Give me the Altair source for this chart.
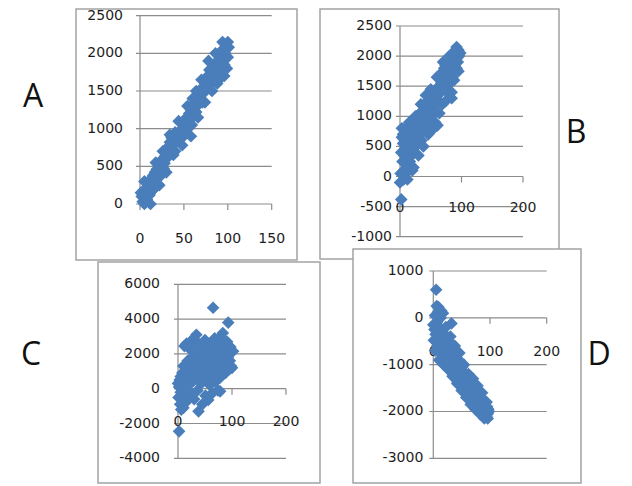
import altair as alt
import pandas as pd

# ---------------- data ----------------
A_x = [1, 2, 3, 4, 5, 6, 7, 8, 9, 10,
       11, 12, 13, 14, 15, 16, 17, 18, 19, 20,
       21, 22, 23, 24, 25, 26, 27, 28, 29, 30,
       31, 32, 33, 34, 35, 36, 37, 38, 39, 40,
       41, 42, 43, 44, 45, 46, 47, 48, 49, 50,
       52, 53, 54, 55, 56, 57, 58, 59, 60, 61,
       62, 63, 64, 65, 66, 67, 68, 69, 70, 71,
       72, 73, 74, 75, 76, 77, 78, 79, 80, 81,
       82, 83, 84, 85, 86, 87, 88, 89, 90, 91,
       92, 93, 94, 95, 96, 97, 98, 99, 100, 101,
       5, 12, 18, 22, 26, 30, 34, 38, 44, 48,
       54, 58, 64, 66, 70, 74, 78, 82, 86, 90,
       94, 96, 100, 16, 40, 60, 88]
A_y = [150, 100, 30, 180, 0, 90, 140, 60, 200, 230,
       120, 330, 250, 180, 380, 300, 420, 340, 460, 400,
       520, 450, 560, 380, 490, 600, 470, 540, 640, 600,
       700, 760, 650, 820, 720, 880, 780, 900, 840, 700,
       820, 920, 860, 950, 900, 980, 940, 880, 1000, 950,
       1050, 1150, 1000, 1100, 1200, 1120, 1250, 1050, 1300, 1180,
       1280, 1350, 1220, 1300, 1420, 1500, 1380, 1520, 1450, 1350,
       1550, 1480, 1600, 1650, 1520, 1700, 1620, 1780, 1720, 1600,
       1800, 1680, 1750, 1850, 1620, 1780, 1900, 1700, 1820, 2000,
       1880, 1780, 2050, 1950, 1850, 2000, 2100, 1800, 1950, 2080,
       300, 0, 550, 250, 700, 420, 920, 650, 1100, 780,
       1300, 900, 1500, 1150, 1650, 1350, 1900, 1500, 2000, 1650,
       2150, 1700, 2150, 200, 950, 1400, 1600]

B_x = [0, 1, 2, 2, 3, 4, 5, 5, 6, 7,
       8, 9, 10, 10, 11, 12, 13, 14, 15, 16,
       17, 18, 19, 20, 21, 22, 23, 24, 25, 26,
       27, 28, 29, 30, 31, 32, 33, 34, 35, 36,
       37, 38, 39, 40, 41, 42, 43, 44, 45, 46,
       47, 48, 49, 50, 51, 52, 53, 54, 55, 56,
       57, 58, 59, 60, 61, 62, 63, 64, 65, 66,
       67, 68, 69, 70, 71, 72, 73, 74, 75, 76,
       77, 78, 79, 80, 81, 82, 83, 84, 85, 86,
       87, 88, 89, 90, 91, 92, 93, 94, 95, 96,
       3, 8, 12, 15, 20, 25, 30, 34, 38, 42,
       46, 50, 55, 60, 64, 70, 74, 80, 84, 88,
       92, 95, 98, 6, 18]
B_y = [-100, 50, -380, 400, 800, 250, 700, 550, 100, 350,
       600, 200, 450, 650, 300, 550, 80, 700, 400, 250,
       500, 620, 350, 750, 450, 150, 600, 850, 500, 700,
       1000, 800, 550, 900, 680, 1050, 780, 950, 600, 850,
       1000, 750, 1100, 900, 1150, 950, 1000, 1250, 850, 1050,
       1200, 950, 1300, 1100, 1000, 1350, 1150, 1250, 1400, 1050,
       900, 1300, 1200, 1450, 850, 1350, 1500, 1250, 1400, 1600,
       1550, 1700, 1200, 1750, 1650, 1800, 1500, 1850, 1700, 1600,
       1400, 1750, 1650, 1850, 1550, 1700, 1800, 1400, 1650, 1900,
       1750, 2050, 1850, 2100, 1950, 1800, 2050, 1900, 2100, 2000,
       650, 800, -50, 900, 100, 1000, 350, 1200, 500, 1350,
       700, 1450, 800, 1650, 1050, 1900, 1250, 2000, 1300, 1600,
       2150, 1750, 2050, -50, 900]

C_x = [0, 1, 2, 2, 3, 4, 5, 5, 6, 7,
       8, 8, 9, 10, 10, 11, 12, 13, 14, 15,
       16, 17, 18, 19, 20, 21, 22, 23, 24, 25,
       26, 27, 28, 29, 30, 31, 32, 33, 34, 35,
       36, 37, 38, 39, 40, 41, 42, 43, 44, 45,
       46, 47, 48, 49, 50, 51, 52, 53, 54, 55,
       56, 57, 58, 59, 60, 61, 62, 63, 64, 65,
       66, 67, 68, 69, 70, 71, 72, 73, 74, 75,
       76, 77, 78, 79, 80, 81, 82, 83, 84, 85,
       86, 87, 88, 89, 90, 91, 92, 93, 94, 95,
       96, 97, 98, 100, 102]
C_y = [300, -500, -2450, 100, 500, -900, -200, 700, -1200, 200,
       -600, 900, 400, -1100, 1300, -300, 2450, 600, -800, 1100,
       2600, 200, 1600, -400, 900, 2300, 1400, -200, 700, 2700,
       1800, 400, 1000, 2900, -600, 1500, 2200, 600, 3100, 1200,
       -100, 2600, -1300, 1900, 800, 1400, 2500, 300, 1700, -900,
       1100, 2200, 500, 1500, 2800, -400, 1000, 1900, 2400, 600,
       -650, 1300, 2100, 200, 1600, 2600, -300, 1200, 2000, 4650,
       900, 1700, 2900, 400, 1400, 2300, 1000, 2700, -100, 1800,
       2500, 600, -150, 3000, 1500, 2100, 800, 3200, 1200, 2600,
       1700, 2300, 900, 2000, 1400, 2700, 1800, 3800, 1100, 2200,
       1600, 2400, 1300, 1200, 2150]

D_x = [0, 1, 2, 3, 4, 5, 6, 7, 8, 9,
       10, 11, 12, 13, 14, 15, 16, 17, 18, 19,
       20, 21, 22, 23, 24, 25, 26, 27, 28, 29,
       30, 31, 32, 33, 34, 35, 36, 37, 38, 39,
       40, 41, 42, 43, 44, 45, 46, 47, 48, 49,
       50, 51, 52, 53, 54, 55, 56, 57, 58, 59,
       60, 61, 62, 63, 64, 65, 66, 67, 68, 69,
       70, 71, 72, 73, 74, 75, 76, 77, 78, 79,
       80, 81, 82, 83, 84, 85, 86, 87, 88, 89,
       90, 91, 92, 93, 94, 95, 96, 97,
       3, 6, 10, 14, 18, 22, 26, 30, 34, 38,
       42, 46, 50, 54, 58, 62, 66, 70, 74, 78,
       82, 86, 90, 94, 98, 96]
D_y = [-150, -480, -250, 50, -350, 600, -100, -600, 120, 230,
       -400, -200, -700, 0, -500, -300, -800, 100, -450, -650,
       -350, -550, -800, -450, -700, -900, -600, -750, -500, -850,
       -700, -950, -120, -800, -1000, -850, -700, -1050, -900, -750,
       -1000, -850, -1100, -950, -1150, -900, -1050, -1200, -1000, -1150,
       -1250, -1050, -1300, -1150, -1400, -1200, -1500, -1250, -1350, -1550,
       -1400, -1300, -1600, -1450, -1350, -1650, -1500, -1400, -1700, -1550,
       -1450, -1750, -1600, -1500, -1800, -1650, -1550, -1850, -1700, -1600,
       -1900, -1750, -1650, -1950, -1800, -1700, -2000, -1850, -1750, -2050,
       -1900, -2120, -1800, -2000, -2100, -1900, -2050, -1950,
       -700, 250, -900, 150, -1000, -200, -1100, -400, -1250, -600,
       -1400, -750, -1550, -1000, -1700, -1200, -1850, -1300, -1950, -1450,
       -2050, -1600, -2150, -1800, -2000, -2150]

A_xticks = [0, 50, 100, 150]
A_yticks = [0, 500, 1000, 1500, 2000, 2500]
B_xticks = [0, 100, 200]
B_yticks = [-1000, -500, 0, 500, 1000, 1500, 2000, 2500]
C_xticks = [0, 100, 200]
C_yticks = [-4000, -2000, 0, 2000, 4000, 6000]
D_xticks = [0, 100, 200]
D_yticks = [-3000, -2000, -1000, 0, 1000]

panel_letters = ["A", "B", "C", "D"]

# ---------------- styling ----------------
BLUE = "#4a7ebb"
GRID = "#8c8c8c"
BOX = "#a3a3a3"
TXT = "#1e1e1e"
TICK_FONT = "DejaVu Sans"


def panel(xs, ys, xticks, yticks, xrange_px, yrange_px, ylab_dx, xlab_dy):
    xdom = [min(xticks), max(xticks)]
    ydom = [min(yticks), max(yticks)]
    xsc = alt.Scale(domain=xdom, range=xrange_px, nice=False, zero=False)
    ysc = alt.Scale(domain=ydom, range=yrange_px, nice=False, zero=False)

    pts = pd.DataFrame({"x": xs, "y": ys})
    grid = pd.DataFrame({"v": yticks, "x0": xdom[0], "x1": xdom[1],
                         "lab": [str(v) for v in yticks]})
    xt = pd.DataFrame({"v": xticks, "y0": 0, "lab": [str(v) for v in xticks]})
    yax = pd.DataFrame({"x0": [0], "y0": [ydom[0]], "y1": [ydom[1]]})

    grid_l = alt.Chart(grid).mark_rule(color=GRID, strokeWidth=1.2, xOffset=-4).encode(
        x=alt.X("x0:Q", scale=xsc, axis=None),
        x2="x1:Q",
        y=alt.Y("v:Q", scale=ysc, axis=None),
    )
    yaxis_l = alt.Chart(yax).mark_rule(color=GRID, strokeWidth=1.2).encode(
        x=alt.X("x0:Q", scale=xsc, axis=None),
        y=alt.Y("y0:Q", scale=ysc, axis=None),
        y2="y1:Q",
    )
    xtick_l = alt.Chart(xt).mark_rule(color=GRID, strokeWidth=1.2, y2Offset=6).encode(
        x=alt.X("v:Q", scale=xsc, axis=None),
        y=alt.Y("y0:Q", scale=ysc, axis=None),
        y2="y0:Q",
    )
    ylab = alt.Chart(grid).mark_text(align="right", baseline="middle", dx=ylab_dx,
                                     font=TICK_FONT, fontSize=14, color=TXT).encode(
        x=alt.X("x0:Q", scale=xsc, axis=None),
        y=alt.Y("v:Q", scale=ysc, axis=None),
        text="lab:N",
    )
    xlab = alt.Chart(xt).mark_text(align="center", baseline="middle", dy=xlab_dy,
                                   font=TICK_FONT, fontSize=14, color=TXT).encode(
        x=alt.X("v:Q", scale=xsc, axis=None),
        y=alt.Y("y0:Q", scale=ysc, axis=None),
        text="lab:N",
    )
    points = alt.Chart(pts).mark_point(shape="diamond", filled=True, size=160,
                                       color=BLUE, opacity=1).encode(
        x=alt.X("x:Q", scale=xsc, axis=None),
        y=alt.Y("y:Q", scale=ysc, axis=None),
    )
    return alt.layer(grid_l, yaxis_l, xtick_l, ylab, xlab, points)


def box(x0, y0, x1, y1):
    return alt.Chart(pd.DataFrame({"k": [0]})).mark_rect(
        fill="white", stroke=BOX, strokeWidth=1.5
    ).encode(x=alt.value(x0), x2=alt.value(x1), y=alt.value(y0), y2=alt.value(y1))


def letter(t, x, y):
    return alt.Chart(pd.DataFrame({"t": [t]})).mark_text(
        font="Open Sans", fontSize=32, color="#111", align="center", baseline="alphabetic"
    ).encode(x=alt.value(x), y=alt.value(y), text="t:N")


boxes = [
    box(68, 1, 289, 252),
    box(312, 1, 551, 251),
    box(90, 254, 312, 475),
    box(345, 241, 573, 475),
]

panels = [
    panel(A_x, A_y, A_xticks, A_yticks, [132, 263.7], [196, 7.7], -17, 35),
    panel(B_x, B_y, B_xticks, B_yticks, [392, 515], [228.7, 18], -8, 31),
    panel(C_x, C_y, C_xticks, C_yticks, [170, 278], [450.3, 276.3], -18, 33),
    panel(D_x, D_y, D_xticks, D_yticks, [425.3, 538.7], [450.3, 263], -10, 34),
]

letters = [
    letter(panel_letters[0], 25, 99),
    letter(panel_letters[1], 568, 135),
    letter(panel_letters[2], 23, 357),
    letter(panel_letters[3], 591, 357),
]

chart = alt.layer(*boxes, *panels, *letters).resolve_scale(
    x="independent", y="independent"
).properties(
    width=616, height=477, padding=0,
    autosize=alt.AutoSizeParams(type="none"),
).configure_view(stroke=None)

chart.save("out.html", embed_options={"renderer": "svg", "actions": False})
